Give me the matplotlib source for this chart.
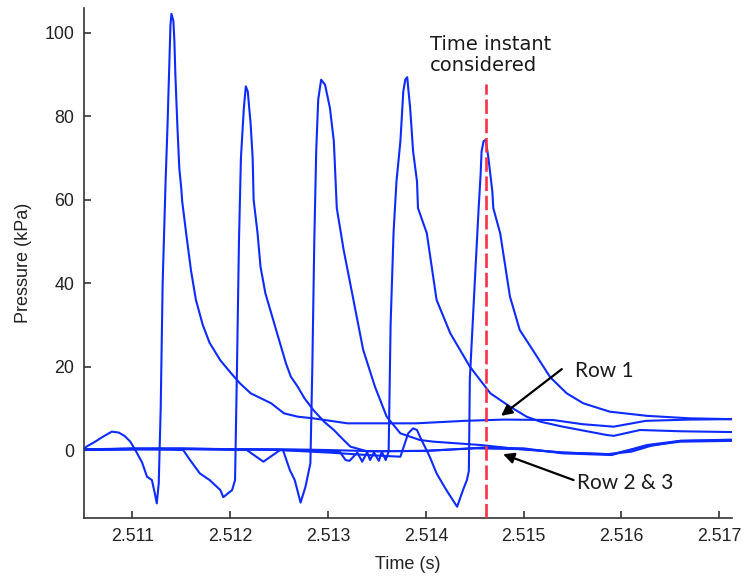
import matplotlib
matplotlib.use("Agg")
import matplotlib.pyplot as plt

plt.rcParams["font.family"] = ["Liberation Sans", "DejaVu Sans"]

# pressure traces, time in s, pressure in kPa
t_s1 = [2.51050, 2.51053, 2.51062, 2.51070, 2.51079, 2.51086, 2.51092, 2.51098,
        2.51104, 2.51110, 2.51115, 2.51120, 2.51123, 2.51125, 2.51127, 2.51129,
        2.51131, 2.51134, 2.51136, 2.51138, 2.51139, 2.51140, 2.51142, 2.51143,
        2.51144, 2.51146, 2.51148, 2.51150, 2.51151, 2.51155, 2.51160, 2.51165,
        2.51172, 2.51179, 2.51190, 2.51201, 2.51210, 2.51221, 2.51242, 2.51255,
        2.51269, 2.51285, 2.51320, 2.51390, 2.51440, 2.51480, 2.51530, 2.51560,
        2.51592, 2.51625, 2.51670, 2.51714]
p_s1 = [0.0, 0.8, 2.0, 3.2, 4.4, 4.2, 3.4, 2.0,
        -0.4, -3.0, -6.4, -7.2, -10.4, -12.8, -8.0, 10.0,
        40.0, 64.4, 78.0, 94.0, 102.0, 104.6, 102.8, 98.0,
        90.0, 78.0, 67.6, 62.8, 59.6, 52.0, 43.0, 36.0,
        30.0, 25.7, 21.5, 18.4, 16.0, 13.6, 11.2, 8.8,
        8.0, 7.6, 6.4, 6.4, 7.0, 7.3, 7.2, 6.2,
        5.6, 7.0, 7.3, 7.4]

t_s2 = [2.51050, 2.51100, 2.51152, 2.51159, 2.51169, 2.51179, 2.51190, 2.51193,
        2.51202, 2.51205, 2.51207, 2.51209, 2.51211, 2.51214, 2.51216, 2.51218,
        2.51221, 2.51223, 2.51224, 2.51228, 2.51231, 2.51236, 2.51242, 2.51247,
        2.51252, 2.51257, 2.51262, 2.51269, 2.51276, 2.51285, 2.51296, 2.51306,
        2.51316, 2.51323, 2.51340, 2.51400, 2.51460, 2.51500, 2.51540, 2.51590,
        2.51626, 2.51660, 2.51714]
p_s2 = [0.2, 0.3, 0.0, -2.4, -5.6, -7.2, -9.6, -11.3,
        -9.6, -7.2, 20.0, 50.0, 70.0, 82.0, 87.2, 86.0,
        78.0, 70.0, 60.0, 52.0, 44.0, 37.6, 32.8, 28.8,
        24.8, 20.8, 17.6, 15.2, 12.4, 9.6, 6.8, 4.8,
        2.4, 0.8, -0.3, -0.2, 0.6, 0.4, -0.8, -1.2,
        1.2, 2.2, 2.4]

t_s3 = [2.51050, 2.51120, 2.51200, 2.51254, 2.51261, 2.51266, 2.51272, 2.51277,
        2.51282, 2.51284, 2.51286, 2.51288, 2.51290, 2.51293, 2.51297, 2.51302,
        2.51306, 2.51309, 2.51316, 2.51326, 2.51336, 2.51348, 2.51360, 2.51374,
        2.51394, 2.51408, 2.51456, 2.51496, 2.51540, 2.51590, 2.51626, 2.51660,
        2.51714]
p_s3 = [0.0, 0.3, 0.2, 0.0, -4.8, -7.2, -12.6, -8.8,
        -3.2, 20.0, 50.0, 72.0, 84.0, 88.8, 87.6, 82.0,
        74.0, 58.0, 48.0, 36.0, 24.0, 15.2, 8.0, 4.0,
        2.4, 2.0, 1.2, 0.2, -0.6, -1.0, 1.0, 2.0,
        2.2]

t_s4 = [2.51050, 2.51150, 2.51217, 2.51234, 2.51251, 2.51300, 2.51312, 2.51318,
        2.51322, 2.51330, 2.51335, 2.51340, 2.51343, 2.51347, 2.51352, 2.51355,
        2.51359, 2.51362, 2.51364, 2.51367, 2.51370, 2.51374, 2.51377, 2.51379,
        2.51381, 2.51382, 2.51384, 2.51387, 2.51391, 2.51392, 2.51401, 2.51411,
        2.51425, 2.51445, 2.51466, 2.51486, 2.51503, 2.51517, 2.51540, 2.51558,
        2.51585, 2.51592, 2.51619, 2.51660, 2.51714]
p_s4 = [0.0, 0.2, 0.0, -2.8, 0.0, -0.2, -0.4, -2.4,
        -2.6, -0.6, -2.8, -0.5, -2.4, -0.6, -2.6, -0.4,
        -2.4, -0.4, 30.0, 52.0, 64.4, 74.0, 86.0, 88.8,
        89.4, 86.8, 82.0, 71.6, 64.4, 58.0, 52.0, 36.0,
        28.0, 20.0, 13.6, 10.4, 8.0, 6.8, 5.6, 4.8,
        3.6, 3.4, 4.8, 4.5, 4.3]

t_s5 = [2.51050, 2.51150, 2.51250, 2.51300, 2.51340, 2.51374, 2.51382, 2.51387,
        2.51391, 2.51394, 2.51404, 2.51411, 2.51421, 2.51432, 2.51438, 2.51442,
        2.51444, 2.51445, 2.51450, 2.51454, 2.51456, 2.51457, 2.51459, 2.51461,
        2.51462, 2.51464, 2.51466, 2.51468, 2.51469, 2.51476, 2.51486, 2.51496,
        2.51512, 2.51527, 2.51544, 2.51561, 2.51588, 2.51626, 2.51670, 2.51714]
p_s5 = [0.2, 0.4, 0.0, -0.6, -1.2, -1.6, 4.0, 5.2,
        4.8, 3.2, -1.6, -5.6, -9.6, -13.6, -9.6, -7.2,
        -5.0, 17.0, 40.0, 58.0, 66.0, 71.6, 74.0, 74.4,
        73.2, 70.0, 66.0, 62.0, 58.0, 52.0, 36.8, 28.8,
        23.0, 17.5, 13.6, 11.2, 9.2, 8.2, 7.6, 7.4]

t_base = [2.51050, 2.51100, 2.51150, 2.51200, 2.51250, 2.51300, 2.51350, 2.51400,
          2.51450, 2.51500, 2.51540, 2.51585, 2.51610, 2.51630, 2.51660, 2.51714]
p_base = [0.0, 0.4, 0.3, 0.2, 0.2, 0.0, -0.3, -0.2,
          0.4, 0.2, -0.6, -1.0, -0.4, 1.0, 2.2, 2.5]

t_instant = 2.51462
x_ticks = [2.511, 2.512, 2.513, 2.514, 2.515, 2.516, 2.517]
y_ticks = [0, 20, 40, 60, 80, 100]

blue = "#0d2bff"

fig = plt.figure(figsize=(7.44, 5.78), dpi=100)
ax = fig.add_axes([0.1129, 0.1038, 0.871, 0.8824])

traces = [(t_s1, p_s1), (t_s2, p_s2), (t_s3, p_s3), (t_s4, p_s4),
          (t_s5, p_s5), (t_base, p_base)]
for t, p in traces:
    ax.plot(t, p, color=blue, lw=1.5, solid_joinstyle="round")

ax.set_xlim(2.510506, 2.51713)
ax.set_ylim(-16.3, 106)

# time instant marker
ax.plot([t_instant, t_instant], [-16.3, 87.8], color="#ff3048", lw=1.9,
        linestyle=(0, (5.5, 1.8)), zorder=5)
ax.text(2.51404, 99.5, "Time instant\nconsidered", family="DejaVu Sans",
        fontsize=14, color="#1a1a1a", va="top", ha="left", linespacing=1.15)

# row labels
arrow = dict(arrowstyle="-|>", color="black", lw=1.6, mutation_scale=16,
             shrinkA=0, shrinkB=0)
ax.annotate("", xy=(2.51477, 8.2), xytext=(2.51539, 19.4), arrowprops=arrow)
ax.text(2.51553, 19.0, "Row 1", family="Lato", fontsize=15, va="center",
        ha="left", color="#1a1a1a")
ax.annotate("", xy=(2.51479, -1.0), xytext=(2.51551, -7.2), arrowprops=arrow)
ax.text(2.51555, -7.8, "Row 2 & 3", family="Lato", fontsize=15, va="center",
        ha="left", color="#1a1a1a")

ax.set_xticks(x_ticks)
ax.set_xticklabels([f"{v:.3f}" for v in x_ticks])
ax.set_yticks(y_ticks)
ax.tick_params(direction="in", length=5, width=1.1, labelsize=12.8,
               colors="#222222", pad=7)

for side in ("top", "right"):
    ax.spines[side].set_visible(False)
for side in ("left", "bottom"):
    ax.spines[side].set_linewidth(1.2)
    ax.spines[side].set_color("#333333")

ax.set_xlabel("Time (s)", fontsize=13, color="#222222", labelpad=8)
ax.set_ylabel("Pressure (kPa)", fontsize=13, color="#222222", labelpad=9)

fig.savefig("out.png", dpi=100)
